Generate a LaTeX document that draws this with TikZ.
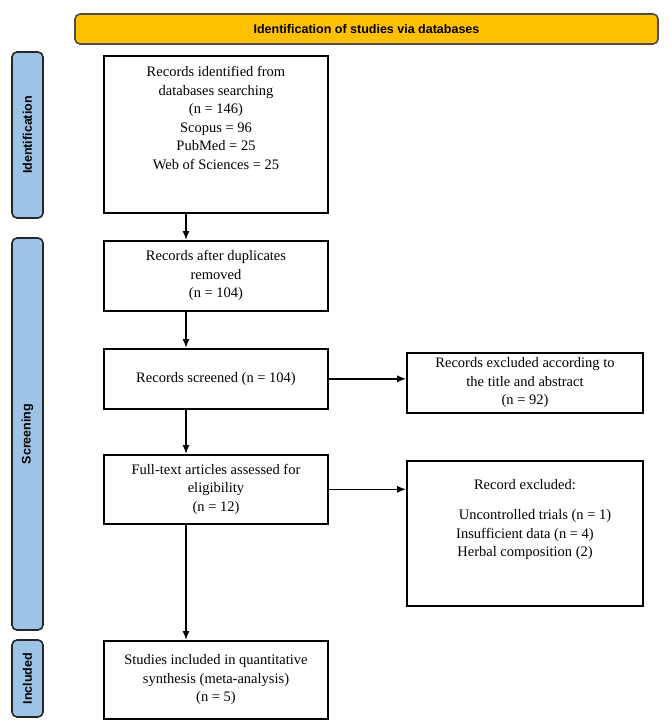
\documentclass[tikz,border=0pt]{standalone}
\usepackage{fontspec}
\usetikzlibrary{arrows.meta}
\setmainfont{Liberation Serif}
\newfontfamily\sansf{Liberation Sans}
\definecolor{bannerc}{HTML}{FFC000}
\definecolor{sidec}{HTML}{9DC3E6}
\begin{document}
\begin{tikzpicture}[x=1pt,y=-1pt,
 box/.style={draw,line width=1.6pt,align=center,font=\fontsize{14.5}{18.5}\selectfont,inner sep=2pt},
 side/.style={draw=black!85,line width=1.6pt,fill=sidec,rounded corners=5pt,minimum width=31pt,font=\sansf\bfseries\fontsize{12.5}{14}\selectfont},
 arr/.style={-{Latex[length=9pt,width=7pt]},line width=1.5pt}]
\useasboundingbox (0,0) rectangle (669,725);
\node[draw=black!70,line width=1.6pt,fill=bannerc,rounded corners=5pt,minimum width=583pt,minimum height=30pt,font=\sansf\bfseries\fontsize{12.5}{14}\selectfont] (top) at (366.5,29) {Identification of studies via databases};
\node[side,minimum height=166pt] (s1) at (27.5,135) {\rotatebox{90}{Identification}};
\node[side,minimum height=392pt] (s2) at (27.5,434) {\rotatebox{90}{Screening}};
\node[side,minimum height=77pt] (s3) at (27.5,678.5) {\rotatebox{90}{Included}};
\node[box,minimum width=224pt,minimum height=157pt,anchor=north] (b1) at (216,55) {Records identified from\\databases searching\\(n = 146)\\Scopus = 96\\PubMed = 25\\Web of Sciences = 25\\[14pt]};
\node[box,minimum width=224pt,minimum height=70pt,anchor=north] (b2) at (216,240) {Records after duplicates\\removed\\(n = 104)};
\node[box,minimum width=224pt,minimum height=60pt,anchor=north] (b3) at (216,348) {Records screened (n = 104)};
\node[box,minimum width=224pt,minimum height=69pt,anchor=north] (b4) at (216,454) {Full-text articles assessed for\\eligibility\\(n = 12)};
\node[box,minimum width=224pt,minimum height=78pt,anchor=north] (b5) at (216,640) {Studies included in quantitative\\synthesis (meta-analysis)\\(n = 5)};
\node[box,minimum width=236pt,minimum height=60pt,anchor=north] (r1) at (525,352) {Records excluded according to\\the title and abstract\\(n = 92)};
\node[box,minimum width=236pt,minimum height=145pt,anchor=north] (r2) at (525,460) {Record excluded:\\[12pt]\hspace*{20pt}Uncontrolled trials (n = 1)\\Insufficient data (n = 4)\\Herbal composition (2)\\[12pt]};
\draw[arr] (186,212) -- (186,240);
\draw[arr] (186,310) -- (186,348);
\draw[arr] (186,408) -- (186,454);
\draw[arr] (186,523) -- (186,640);
\draw[arr] (b3.east) -- (r1.west|-b3.east);
\draw[arr] (b4.east) -- (r2.west|-b4.east);
\end{tikzpicture}
\end{document}
